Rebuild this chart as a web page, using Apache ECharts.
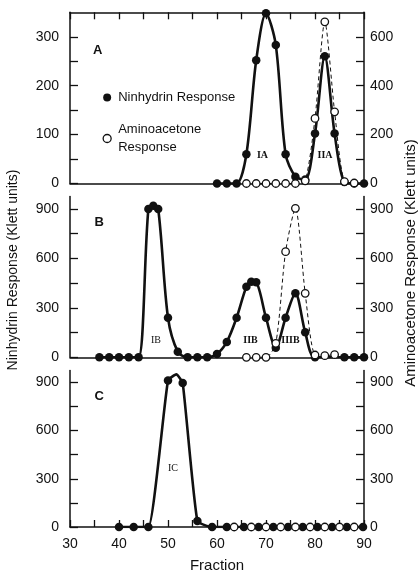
<!DOCTYPE html>
<html>
<head>
<meta charset="utf-8">
<script src="https://cdn.jsdelivr.net/npm/echarts@6/dist/echarts.min.js"></script>
<style>html,body{margin:0;padding:0;background:#fff;}#c{width:420px;height:574px;}</style>
</head>
<body>
<div id="c"></div>
<script>
// ---- data ----
const fractionsNinA = [60,62,64,66,68,70,72,74,76,78,80,82,84,86,88,90];
const ninhydrinA    = [0,0,0,60,252,348,283,60,14,8,102,260,102,3,0,0];
const fractionsAmiA = [66,68,70,72,74,76,78,80,82,84,86,88];
const aminoacetoneA = [0,0,0,0,0,0,11,266,661,293,8,2];

const fractionsNinB = [36,38,40,42,44,46,47,48,50,52,54,56,58,60,62,64,66,67,68,70,72,74,76,78,80,86,88,90];
const ninhydrinB    = [0,0,0,0,0,900,920,900,240,34,0,0,0,20,93,240,428,459,455,240,58,240,388,152,0,0,0,0];
const fractionsAmiB = [66,68,70,72,74,76,78,80,82,84];
const aminoacetoneB = [0,0,0,85,641,904,388,14,10,16];

const fractionsNinC = [40,43,46,50,51.7,53,56,59,62,65.5,68.5,71.5,74.5,77.5,80.5,83.5,86.5,89.8];
const ninhydrinC    = [0,0,0,912,950,896,37,0,0,0,0,0,0,0,0,0,0,0];
const unmarkedNinC  = [51.7];           // apex of the drawn curve, no symbol
const fractionsAmiC = [63.5,67,70,73,76,79,82,85,88];
const aminoacetoneC = [0,0,0,0,0,0,0,0,0];

const fractionTicks  = [30,35,40,45,50,55,60,65,70,75,80,85,90];
const fractionLabels = [30,40,50,60,70,80,90];
const ninTicksA  = [0,50,100,150,200,250,300];
const ninLabelsA = [0,100,200,300];
const amiTicksA  = [0,100,200,300,400,500,600];
const amiLabelsA = [0,200,400,600];
const ticksBC    = [0,150,300,450,600,750,900];
const labelsBC   = [0,300,600,900];

const peakLabels = ['IA','IIA','IB','IIB','IIIB','IC'];
const panelLetters = ['A','B','C'];
const seriesNames = ['Ninhydrin Response','Aminoacetone Response'];

// ---- chart ----
const chart = echarts.init(document.getElementById('c'), null, {renderer:'canvas'});
const FONT = 'Liberation Sans';
const black = '#111';

function pairs(xs, ys){ return xs.map((x,i)=>[x, ys[i]]); }
function ninData(xs, ys, hidden){
  return xs.map((x,i)=> (hidden && hidden.indexOf(x)>=0) ? {value:[x,ys[i]], symbol:'none'} : [x,ys[i]]);
}

const grids = [
  {left:70, width:294, top:12.3, height:171.2},
  {left:70, width:294, top:196.6, height:160.7},
  {left:70, width:294, top:370.4, height:159.6}
];

function xAx(gi, opts){
  return Object.assign({
    type:'value', gridIndex:gi, min:30, max:90,
    axisLine:{show:true, onZero:false, lineStyle:{color:black, width:1.5}},
    axisTick:{show:false},
    axisLabel:{show:false},
    splitLine:{show:false}
  }, opts||{});
}
function yAx(gi, pos, max, ticks, labels){
  return {
    type:'value', gridIndex:gi, position:pos, min:0, max:max,
    axisLine:{show:true, onZero:false, lineStyle:{color:black, width:1.5}},
    axisTick:{show:true, inside:true, length:8, lineStyle:{color:black, width:1.3}, customValues:ticks},
    axisLabel:{show:true, color:black, fontFamily:FONT, fontSize:14, margin: pos==='left'?11:6, customValues:labels},
    splitLine:{show:false}
  };
}

const ninStyle = {
  type:'line', symbol:'circle', symbolSize:8.5, showAllSymbol:true,
  lineStyle:{color:black, width:2.6}, itemStyle:{color:black},
  smooth:0.3, z:2, animation:false
};
const amiStyle = {
  type:'line', symbol:'circle', symbolSize:7.5, showAllSymbol:true,
  lineStyle:{color:black, width:1, type:[4,3]},
  itemStyle:{color:'#fff', borderColor:black, borderWidth:1.3},
  smooth:0.25, z:3, animation:false
};

const option = {
  backgroundColor:'#fff',
  animation:false,
  grid: grids,
  xAxis: [
    xAx(0),
    xAx(1),
    xAx(2, {
      axisTick:{show:true, inside:true, length:7, lineStyle:{color:black, width:1.3}, customValues:fractionTicks},
      axisLabel:{show:true, color:black, fontFamily:FONT, fontSize:14, margin:10, customValues:fractionLabels},
      name:'Fraction', nameLocation:'middle', nameGap:31,
      nameTextStyle:{color:black, fontFamily:FONT, fontSize:15}
    }),
    xAx(0, {position:'top',
      axisTick:{show:true, inside:true, length:7, lineStyle:{color:black, width:1.3}, customValues:fractionTicks}})
  ],
  yAxis: [
    yAx(0,'left',350, ninTicksA, ninLabelsA),
    yAx(0,'right',700, amiTicksA, amiLabelsA),
    yAx(1,'left',975, ticksBC, labelsBC),
    yAx(1,'right',975, ticksBC, labelsBC),
    yAx(2,'left',975, ticksBC, labelsBC),
    yAx(2,'right',975, ticksBC, labelsBC)
  ],
  legend: {
    left:97.5, top:83.5, orient:'vertical', itemGap:14,
    icon:'circle', itemWidth:8, itemHeight:8,
    selectedMode:false,
    formatter: n => n === seriesNames[1] ? 'Aminoacetone\nResponse' : n,
    textStyle:{color:black, fontFamily:FONT, fontSize:13, lineHeight:18, padding:[0,0,0,2]},
    data:[
      {name:seriesNames[0], itemStyle:{color:black}},
      {name:seriesNames[1], itemStyle:{color:'#fff', borderColor:black, borderWidth:1.3}}
    ]
  },
  series: [
    Object.assign({}, ninStyle, {name:seriesNames[0], xAxisIndex:0, yAxisIndex:0, data:pairs(fractionsNinA, ninhydrinA)}),
    Object.assign({}, amiStyle, {name:seriesNames[1], xAxisIndex:0, yAxisIndex:1, data:pairs(fractionsAmiA, aminoacetoneA)}),
    Object.assign({}, ninStyle, {name:seriesNames[0], xAxisIndex:1, yAxisIndex:2, data:pairs(fractionsNinB, ninhydrinB)}),
    Object.assign({}, amiStyle, {name:seriesNames[1], xAxisIndex:1, yAxisIndex:3, data:pairs(fractionsAmiB, aminoacetoneB)}),
    Object.assign({}, ninStyle, {name:seriesNames[0], xAxisIndex:2, yAxisIndex:4, smooth:0.15, data:ninData(fractionsNinC, ninhydrinC, unmarkedNinC)}),
    Object.assign({}, amiStyle, {name:seriesNames[1], xAxisIndex:2, yAxisIndex:5, data:pairs(fractionsAmiC, aminoacetoneC)})
  ],
  graphic: [
    // panel letters
    {type:'text', left:93, top:44, style:{text:panelLetters[0], font:'bold 13px "Liberation Sans"', fill:black}},
    {type:'text', left:94.5, top:216, style:{text:panelLetters[1], font:'bold 13px "Liberation Sans"', fill:black}},
    {type:'text', left:94.5, top:390, style:{text:panelLetters[2], font:'bold 13px "Liberation Sans"', fill:black}},
    // peak labels
    {type:'text', x:262.5, y:155, style:{text:peakLabels[0], font:'bold 10px "Liberation Serif"', fill:black, align:'center', verticalAlign:'middle'}},
    {type:'text', x:325, y:155, style:{text:peakLabels[1], font:'bold 10px "Liberation Serif"', fill:black, align:'center', verticalAlign:'middle'}},
    {type:'text', x:156, y:340, style:{text:peakLabels[2], font:'10px "Liberation Serif"', fill:black, align:'center', verticalAlign:'middle'}},
    {type:'text', x:250.5, y:340, style:{text:peakLabels[3], font:'bold 10px "Liberation Serif"', fill:black, align:'center', verticalAlign:'middle'}},
    {type:'text', x:290.5, y:340, style:{text:peakLabels[4], font:'bold 10px "Liberation Serif"', fill:black, align:'center', verticalAlign:'middle'}},
    {type:'text', x:173, y:468, style:{text:peakLabels[5], font:'10px "Liberation Serif"', fill:black, align:'center', verticalAlign:'middle'}},
    // axis titles
    {type:'text', x:13, y:270, rotation:Math.PI/2,
      style:{text:'Ninhydrin Response (Klett units)', font:'14px "Liberation Sans"', fill:black, align:'center', verticalAlign:'middle'}},
    {type:'text', x:411, y:263, rotation:Math.PI/2,
      style:{text:'Aminoacetone Response (Klett units)', font:'15px "Liberation Sans"', fill:black, align:'center', verticalAlign:'middle'}}
  ]
};
chart.setOption(option);
</script>
</body>
</html>
